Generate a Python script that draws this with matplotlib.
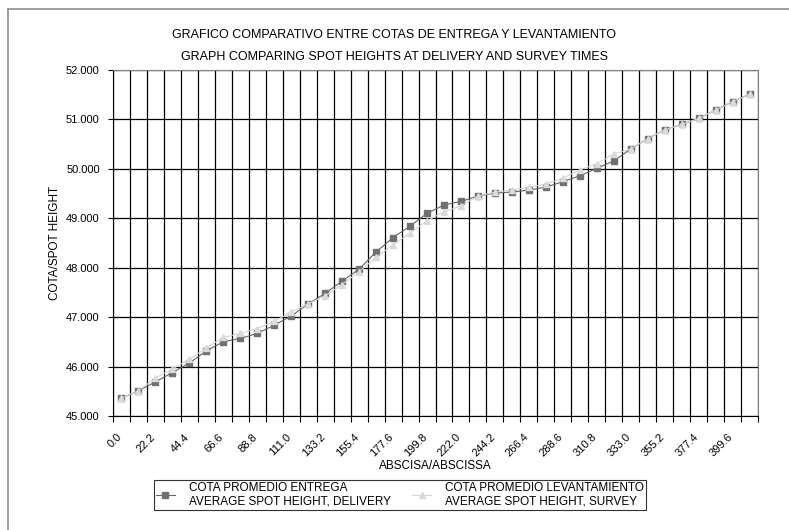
import matplotlib
matplotlib.use("Agg")
import matplotlib.pyplot as plt
from matplotlib.lines import Line2D
from matplotlib.transforms import ScaledTranslation

plt.rcParams['font.family'] = ['Liberation Sans', 'DejaVu Sans']

# abscissa of each category (step 11.1)
abscisa = [round(11.1 * i, 1) for i in range(38)]

entrega = [45.36, 45.51, 45.69, 45.88, 46.07, 46.32, 46.50, 46.57, 46.67, 46.84,
           47.02, 47.27, 47.48, 47.73, 47.97, 48.32, 48.61, 48.84, 49.10, 49.27,
           49.34, 49.45, 49.51, 49.53, 49.57, 49.63, 49.74, 49.86, 50.01, 50.16,
           50.40, 50.61, 50.79, 50.90, 51.02, 51.19, 51.36, 51.51]

levantamiento = [45.36, 45.51, 45.77, 45.95, 46.15, 46.38, 46.59, 46.67, 46.77, 46.92,
                 47.10, 47.27, 47.43, 47.66, 47.92, 48.21, 48.46, 48.70, 48.95, 49.13,
                 49.25, 49.45, 49.53, 49.57, 49.63, 49.69, 49.81, 49.98, 50.10, 50.30,
                 50.40, 50.61, 50.79, 50.90, 51.02, 51.19, 51.36, 51.51]

label_entrega = "COTA PROMEDIO ENTREGA\nAVERAGE SPOT HEIGHT, DELIVERY"
label_levant = "COTA PROMEDIO LEVANTAMIENTO\nAVERAGE SPOT HEIGHT, SURVEY"

fig = plt.figure(figsize=(7.89, 5.30), dpi=100)
ax = fig.add_axes([113/789, 1 - 416/530, 645/789, 346/530])

n = len(abscisa)
xpos = [i + 0.5 for i in range(n)]

ax.plot(xpos, entrega, color='#666666', lw=0.8, marker='s', ms=4.5,
        mfc='#707070', mec='#707070', label=label_entrega)
ax.plot(xpos, levantamiento, color='#d4d4d4', lw=0.8, marker='^', ms=5,
        mfc='#dadada', mec='#dadada', label=label_levant)

ax.set_xlim(0, n)
ax.set_ylim(45, 52)

# category boundaries: gridlines + tick marks
ax.set_xticks(range(n + 1))
ax.set_xticklabels([])
ax.tick_params(axis='x', which='major', direction='out', length=4, width=0.8)
ax.set_xticks(xpos[::2], minor=True)
ax.set_xticklabels([f"{v:.1f}" for v in abscisa[::2]], minor=True,
                   rotation=45, ha='right', va='top', rotation_mode='anchor',
                   fontsize=8)
ax.tick_params(axis='x', which='minor', length=0, pad=10)
shift = ScaledTranslation(-0.05, -0.02, fig.dpi_scale_trans)
for lab in ax.get_xticklabels(minor=True):
    lab.set_transform(lab.get_transform() + shift)

ax.set_yticks(range(45, 53))
ax.set_yticklabels([f"{v:.3f}" for v in range(45, 53)], fontsize=8)
ax.tick_params(axis='y', direction='inout', length=7, width=0.8, pad=6)

ax.grid(True, which='major', color='black', lw=0.9)
ax.set_axisbelow(True)

for s in ['top', 'right']:
    ax.spines[s].set_color('#808080')
for s in ['left', 'bottom']:
    ax.spines[s].set_color('black')

fig.text(0.5, 1 - 35/530, "GRAFICO COMPARATIVO ENTRE COTAS DE ENTREGA Y LEVANTAMIENTO",
         ha='center', va='center', fontsize=9)
fig.text(0.5, 1 - 57/530, "GRAPH COMPARING SPOT HEIGHTS AT DELIVERY AND SURVEY TIMES",
         ha='center', va='center', fontsize=9)
fig.text(435/789, 1 - 466/530, "ABSCISA/ABSCISSA", ha='center', va='center', fontsize=8.5)
fig.text(55/789, 1 - 243/530, "COTA/SPOT HEIGHT", ha='center', va='center',
         rotation=90, fontsize=8.5)

leg = fig.legend(loc='center', bbox_to_anchor=(400/789, 1 - 495/530), ncol=2,
                 fontsize=8.5, frameon=True, fancybox=False, edgecolor='black',
                 handlelength=1.6, columnspacing=1.8, borderpad=0.2,
                 labelspacing=0.2, handletextpad=1.2, borderaxespad=0)
leg.get_frame().set_linewidth(0.8)

# outer chart border (top and left visible)
fig.add_artist(Line2D([8/789, 1], [1 - 9/530, 1 - 9/530], color='#909090', lw=1.2))
fig.add_artist(Line2D([8/789, 8/789], [0, 1 - 9/530], color='#909090', lw=1.2))

fig.savefig("out.png", dpi=100)
